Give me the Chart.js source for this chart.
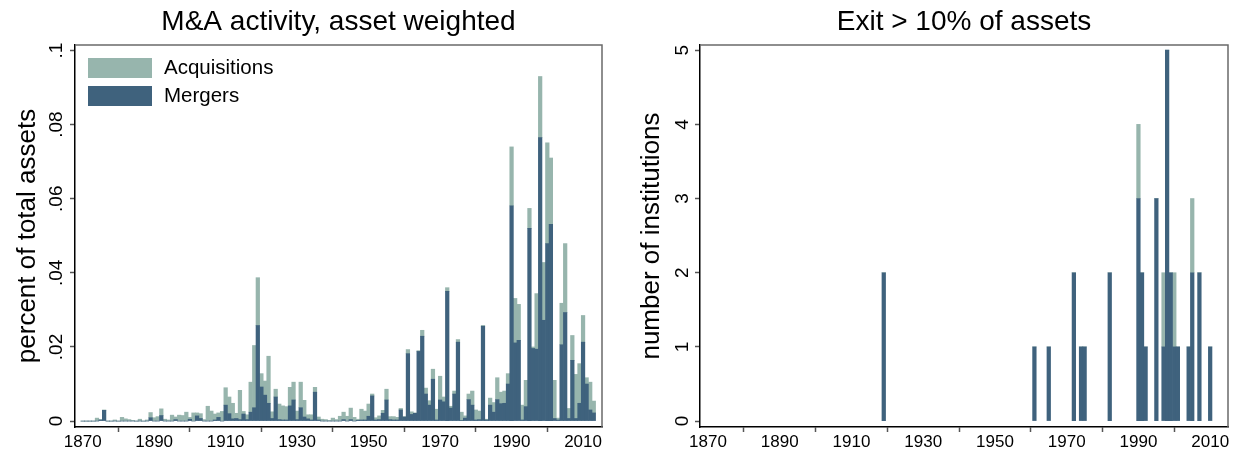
<!DOCTYPE html>
<html>
<head>
<meta charset="utf-8">
<script src="https://cdn.jsdelivr.net/npm/chart.js@4.4.0/dist/chart.umd.min.js"></script>
<style>
  html, body { margin: 0; padding: 0; background: #fff; }
  .row { display: flex; width: 1242px; height: 457px; }
  canvas { display: block; }
</style>
</head>
<body>
<div class="row">
  <canvas id="maChart" width="621" height="457"></canvas>
  <canvas id="exitChart" width="621" height="457"></canvas>
</div>
<script>
// yearly M&A volume as share of total assets, 1870-2013
const firstYear = 1870;
const mergers = [
  0, 0, 0, 0, 0, 0.0003, 0.0029, 0, 0, 0,
  0, 0, 0, 0, 0, 0, 0, 0, 0, 0.0009,
  0, 0, 0.0015, 0, 0, 0, 0.0004, 0, 0, 0,
  0.0005, 0, 0.0014, 0.0007, 0, 0, 0, 0.0003, 0.001, 0,
  0.0043, 0.002, 0.0006, 0.0007, 0.0004, 0.0019, 0.0004, 0.0024, 0.0036, 0.0258,
  0.0092, 0.007, 0.0048, 0.0007, 0.0065, 0.0004, 0.0003, 0.0003, 0.0041, 0.0057,
  0.0004, 0.0036, 0.0011, 0.0006, 0.0003, 0.0078, 0.0003, 0, 0, 0,
  0, 0, 0, 0.0004, 0, 0.0004, 0, 0.0002, 0.0003, 0.0003,
  0.0013, 0.0068, 0.0003, 0.0004, 0.0021, 0.0057, 0.0004, 0.0003, 0.0003, 0.003,
  0.0011, 0.0182, 0.0018, 0.0021, 0.0188, 0.0229, 0.0073, 0.0043, 0.0113, 0.0003,
  0.0057, 0.0052, 0.035, 0.0035, 0.0073, 0.0213, 0.0001, 0.0008, 0.0058, 0.0043,
  0.0003, 0.0004, 0.0256, 0.0003, 0.0043, 0.0024, 0.0058, 0.0047, 0.0048, 0.01,
  0.0581, 0.0211, 0.0218, 0.0003, 0.0039, 0.052, 0.0196, 0.0194, 0.0765, 0.0272,
  0.0479, 0.0531, 0.0007, 0.0003, 0.0206, 0.0293, 0.0007, 0.0164, 0.0007, 0.0048,
  0.0213, 0.01, 0.003, 0.0022
];
const acquisitions = [
  0, 0, 0, 0, 0.0008, 0.0001, 0.0001, 0, 0, 0.0003,
  0, 0.001, 0.0006, 0.0004, 0.0002, 0, 0.0005, 0, 0.0003, 0.0014,
  0.0009, 0.0012, 0.0018, 0.0005, 0.0003, 0.0016, 0.0007, 0.0016, 0.0015, 0.0024,
  0.0005, 0.0022, 0.0008, 0.0013, 0.0004, 0.004, 0.0027, 0.0016, 0.0012, 0.0026,
  0.0047, 0.0045, 0.0042, 0.0014, 0.0079, 0.0007, 0.0013, 0.0081, 0.0168, 0.0129,
  0.0036, 0.0038, 0.0127, 0.0018, 0.0021, 0.0042, 0.0038, 0.0036, 0.005, 0.0048,
  0.0023, 0.0069, 0.0045, 0.0011, 0.0014, 0.0013, 0.0008, 0.0005, 0.0004, 0.0002,
  0.0008, 0.0004, 0.0013, 0.002, 0.0013, 0.0031, 0.001, 0.0003, 0.0029, 0.0024,
  0.0033, 0.0005, 0.0006, 0.001, 0.0008, 0.0029, 0.0008, 0.0009, 0.0007, 0.0004,
  0.0001, 0.0011, 0.0007, 0.0001, 0.0002, 0.0016, 0.0016, 0.0012, 0.0027, 0.0029,
  0.0064, 0.0013, 0.001, 0.0005, 0.0008, 0.0007, 0.0023, 0.0006, 0.0015, 0.0038,
  0.0027, 0.0023, 0.0002, 0.0002, 0.0019, 0.0026, 0.0059, 0.0031, 0.0033, 0.0028,
  0.0159, 0.012, 0.0097, 0.004, 0.0071, 0.0054, 0.0004, 0.015, 0.0165, 0.0156,
  0.0272, 0.0179, 0.0103, 0.0005, 0.0112, 0.0186, 0.0027, 0.0067, 0.0119, 0.0107,
  0.0072, 0.0017, 0.0075, 0.0032
];

// exits of more than 10% of assets, counts per year
const exitYears        = [1919, 1961, 1965, 1972, 1974, 1975, 1982, 1990, 1991, 1992, 1995, 1997, 1998, 1999, 2000, 2001, 2004, 2005, 2007, 2010];
const exitMergers      = [2,    1,    1,    2,    1,    1,    2,    3,    2,    1,    3,    1,    5,    2,    1,    1,    1,    2,    2,    1];
const exitAcquisitions = [0,    0,    0,    0,    0,    0,    0,    1,    0,    0,    0,    1,    0,    0,    1,    0,    0,    1,    0,    0];

const yearTicks = [1870, 1890, 1910, 1930, 1950, 1970, 1990, 2010];
const shareTicks = [0, 0.02, 0.04, 0.06, 0.08, 0.1];
const countTicks = [0, 1, 2, 3, 4, 5];

const DARK = '#3f627d';
const LIGHT = '#97b5ad';

Chart.defaults.font.family = '"Liberation Sans", Arial, sans-serif';
Chart.defaults.color = '#000';

const years = mergers.map((_, i) => firstYear + i);

// top and right edges of the plot box
const frame = {
  id: 'frame',
  afterDraw(chart) {
    const { ctx, chartArea: a } = chart;
    ctx.save();
    ctx.strokeStyle = '#6a6a6a';
    ctx.lineWidth = 1.5;
    ctx.beginPath();
    ctx.moveTo(a.left, a.top);
    ctx.lineTo(a.right, a.top);
    ctx.lineTo(a.right, a.bottom);
    ctx.stroke();
    ctx.restore();
  }
};

// legend drawn inside the plot, top-left
const insetLegend = {
  id: 'insetLegend',
  afterDraw(chart) {
    const { ctx, chartArea: a } = chart;
    const sets = chart.data.datasets.slice().reverse();
    ctx.save();
    ctx.font = '20.5px "Liberation Sans", Arial, sans-serif';
    ctx.textBaseline = 'middle';
    sets.forEach((ds, i) => {
      const y = a.top + 13 + i * 28;
      ctx.fillStyle = ds.backgroundColor;
      ctx.fillRect(a.left + 13, y, 64, 20);
      ctx.fillStyle = '#000';
      ctx.fillText(ds.label, a.left + 89, y + 10);
    });
    ctx.restore();
  }
};

function xAxis(min, max) {
  return {
    type: 'linear',
    stacked: true,
    min: min,
    max: max,
    offset: false,
    afterBuildTicks: s => { s.ticks = yearTicks.map(v => ({ value: v })); },
    afterFit: s => { s.height = 30; },
    border: { color: '#000', width: 1.5 },
    grid: { drawOnChartArea: false, tickLength: 5, tickColor: '#555', tickWidth: 1.5 },
    ticks: { font: { size: 17 }, padding: 0, maxRotation: 0, callback: v => String(v) }
  };
}

function yAxis(min, max, tickList, fmt, title, titlePad, labelPad, width) {
  return {
    type: 'linear',
    stacked: true,
    min: min,
    max: max,
    afterBuildTicks: s => { s.ticks = tickList.map(v => ({ value: v })); },
    afterFit: s => { s.width = width; },
    border: { color: '#000', width: 1.5 },
    grid: { drawOnChartArea: false, tickLength: 5, tickColor: '#555', tickWidth: 1.5 },
    ticks: { font: { size: 19 }, minRotation: 90, maxRotation: 90, crossAlign: 'center', padding: labelPad, callback: fmt },
    title: { display: true, text: title, font: { size: 26 }, padding: { top: titlePad, bottom: 0 } }
  };
}

const shareLabel = v => v === 0 ? '0' : String(+v.toFixed(2)).replace(/^0/, '');

function titleOpts(text) {
  return {
    display: true,
    fullSize: false,
    text: text,
    color: '#000',
    font: { size: 28, weight: 'normal' },
    padding: { top: 5, bottom: 6.4 }
  };
}

new Chart(document.getElementById('maChart'), {
  type: 'bar',
  data: {
    datasets: [
      { label: 'Mergers', data: years.map((x, i) => ({ x: x, y: mergers[i] })), backgroundColor: DARK },
      { label: 'Acquisitions', data: years.map((x, i) => ({ x: x, y: acquisitions[i] })), backgroundColor: LIGHT }
    ]
  },
  options: {
    responsive: false,
    animation: false,
    layout: { padding: { right: 19 } },
    datasets: { bar: { barPercentage: 1, categoryPercentage: 1, borderWidth: 0 } },
    plugins: {
      legend: { display: false },
      tooltip: { enabled: false },
      title: titleOpts('M&A activity, asset weighted')
    },
    scales: {
      x: xAxis(1867.85, 2015.3),
      y: yAxis(-0.0016, 0.1015, shareTicks, shareLabel, 'percent of total assets', 12, 0, 75)
    }
  },
  plugins: [frame, insetLegend]
});

new Chart(document.getElementById('exitChart'), {
  type: 'bar',
  data: {
    datasets: [
      { label: 'Mergers', data: exitYears.map((x, i) => ({ x: x, y: exitMergers[i] })), backgroundColor: DARK },
      { label: 'Acquisitions', data: exitYears.map((x, i) => ({ x: x, y: exitAcquisitions[i] })), backgroundColor: LIGHT }
    ]
  },
  options: {
    responsive: false,
    animation: false,
    layout: { padding: { right: 14 } },
    datasets: { bar: { barPercentage: 1, categoryPercentage: 1, borderWidth: 0 } },
    plugins: {
      legend: { display: false },
      tooltip: { enabled: false },
      title: titleOpts('Exit > 10% of assets')
    },
    scales: {
      x: xAxis(1867.77, 2014.97),
      y: yAxis(-0.08, 5.07, countTicks, v => String(v), 'number of institutions', 15, 7, 79)
    }
  },
  plugins: [frame]
});
</script>
</body>
</html>
